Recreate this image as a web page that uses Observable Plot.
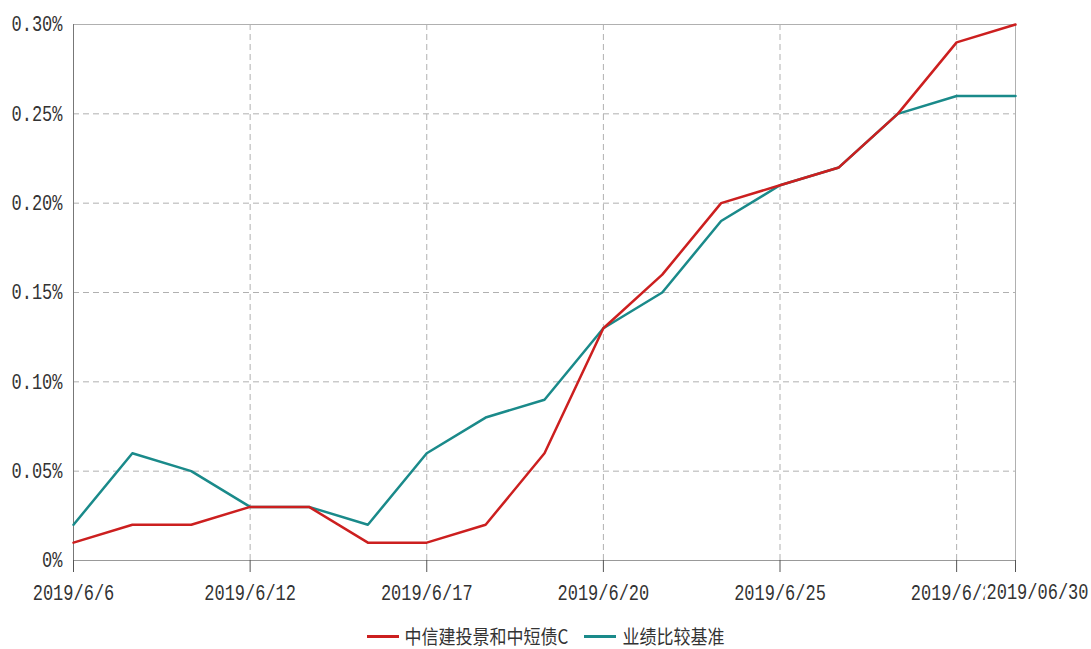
<!DOCTYPE html>
<html><head><meta charset="utf-8">
<script src="https://cdn.jsdelivr.net/npm/d3@7"></script>
<script src="https://cdn.jsdelivr.net/npm/@observablehq/plot@0.6"></script>
<style>
body{margin:0;background:#fff;}
#wrap{position:relative;width:1091px;height:649px;overflow:hidden;background:#fff;}
#title{position:absolute;top:-17px;left:0;width:1091px;text-align:center;font:16px "Liberation Mono",monospace;color:#999;line-height:19px;}
#chart{position:absolute;top:0;left:0;}
#legend{position:absolute;top:624px;left:0;width:1091px;height:24px;display:flex;justify-content:center;align-items:center;font-family:"Noto Sans CJK SC",sans-serif;font-size:17px;color:#333;}
.item{display:flex;align-items:center;margin:0 8px;}
.sw{display:inline-block;width:32px;height:3px;margin-right:6px;}
.lab{display:inline-block;transform:scaleY(1.15);line-height:22px;}
</style></head>
<body>
<div id="wrap">
  <div id="title">(2019年06月06日-2019年06月30日)</div>
  <div id="chart"></div>
  <div id="legend"></div>
</div>
<script>
const dates = ["2019/6/6","2019/6/10","2019/6/11","2019/6/12","2019/6/13","2019/6/14","2019/6/17","2019/6/18","2019/6/19","2019/6/20","2019/6/21","2019/6/24","2019/6/25","2019/6/26","2019/6/27","2019/6/28","2019/06/30"];
const fundValues = [0.01,0.02,0.02,0.03,0.03,0.01,0.01,0.02,0.06,0.13,0.16,0.20,0.21,0.22,0.25,0.29,0.30];
const benchValues = [0.02,0.06,0.05,0.03,0.03,0.02,0.06,0.08,0.09,0.13,0.15,0.19,0.21,0.22,0.25,0.26,0.26];
const seriesNames = ["中信建投景和中短债C","业绩比较基准"];
const seriesColors = ["#cc1f1f","#1a8a8a"];
const yTicks = [0,0.05,0.10,0.15,0.20,0.25,0.30];
const xTickLabels = ["2019/6/6","2019/6/12","2019/6/17","2019/6/20","2019/6/25","2019/6/28","2019/06/30"];

const fundData = dates.map((d,i)=>({date:d, value:fundValues[i]}));
const benchData = dates.map((d,i)=>({date:d, value:benchValues[i]}));
const lastLabel = xTickLabels[xTickLabels.length-1];
const fmt = d => d === 0 ? "0%" : d.toFixed(2) + "%";
const grid = {stroke:"#b0b0b0", strokeOpacity:1, strokeDasharray:"6,4"};

const chart = Plot.plot({
  width:1091, height:610,
  marginLeft:73, marginRight:76, marginTop:24, marginBottom:50,
  style:{fontFamily:'"Liberation Mono", monospace', fontSize:"17px", color:"#333", background:"#fff", overflow:"visible"},
  x:{type:"point", domain:dates, padding:0, round:false, label:null},
  y:{domain:[0,0.30], label:null},
  marks:[
    Plot.gridY(yTicks.slice(1,-1), grid),
    Plot.gridX(xTickLabels.slice(1,-1), grid),
    Plot.frame({stroke:"#b0b0b0"}),
    Plot.ruleX([dates[0]], {stroke:"#777"}),
    Plot.ruleY([0], {stroke:"#999"}),
    Plot.axisY(yTicks, {tickSize:0, tickPadding:11, tickFormat:fmt, fill:"#333", label:null}),
    Plot.axisX(xTickLabels, {tickSize:12, tickPadding:14, stroke:"#555", fill:"#333", label:null,
      tickFormat: d => d === lastLabel ? "" : d}),
    Plot.line(benchData, {x:"date", y:"value", stroke:seriesColors[1], strokeWidth:2.5}),
    Plot.line(fundData, {x:"date", y:"value", stroke:seriesColors[0], strokeWidth:2.5}),
    Plot.text([lastLabel], {x:d=>d, y:()=>0, dy:32, dx:73, textAnchor:"end", lineAnchor:"middle",
      text:d=>d, fill:"#333", stroke:"white", strokeWidth:6})
  ]
});
document.getElementById("chart").appendChild(chart);
chart.querySelectorAll("text").forEach(t => {
  const b = t.getBBox(); const cy = b.y + b.height/2;
  const tr = t.getAttribute("transform") || "";
  t.setAttribute("transform", `${tr} translate(0,${cy}) scale(1,1.3) translate(0,${-cy})`);
});

const legend = document.getElementById("legend");
seriesNames.forEach((n,i)=>{
  const it = document.createElement("div"); it.className="item";
  const sw = document.createElement("span"); sw.className="sw"; sw.style.background=seriesColors[i];
  const lb = document.createElement("span"); lb.className="lab"; lb.textContent=n;
  it.appendChild(sw); it.appendChild(lb); legend.appendChild(it);
});
</script>
</body></html>
